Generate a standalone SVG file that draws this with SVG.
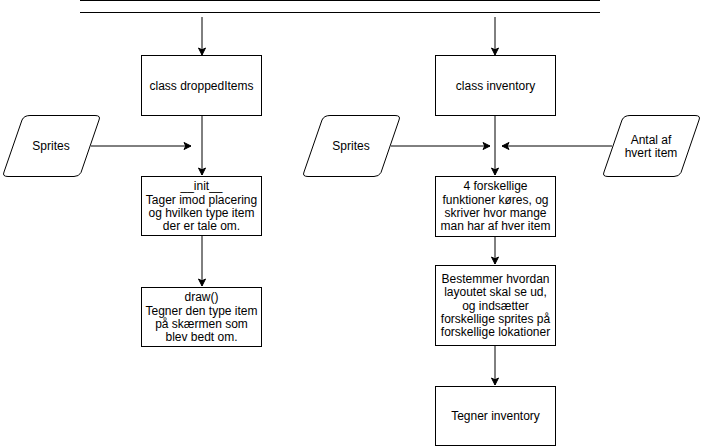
<svg xmlns="http://www.w3.org/2000/svg" width="703" height="447" viewBox="0 0 703 447">
<style>
  .box{fill:#fff;stroke:#000;stroke-width:1}
  .t{font-family:"Liberation Sans",Arial,sans-serif;font-size:12px;fill:#000;text-anchor:middle}
  .c{fill:none;stroke:#000;stroke-width:1}
</style>
<defs>
  <marker id="arr" markerUnits="userSpaceOnUse" markerWidth="10" markerHeight="10" viewBox="0 0 10 10" refX="8" refY="5" orient="auto">
    <path d="M1,1.5 L8,5 L1,8.5 L2.8,5 Z" fill="#000" stroke="#000" stroke-width="1" stroke-linejoin="miter"/>
  </marker>
</defs>
<rect width="703" height="447" fill="#fff"/>
<g id="bar">
  <line class="c" x1="80" y1="0.5" x2="600" y2="0.5"/>
  <line class="c" x1="80" y1="12.5" x2="600" y2="12.5"/>
</g>
<g id="connectors">
  <line class="c" x1="202" y1="17" x2="202" y2="55" marker-end="url(#arr)"/>
  <line class="c" x1="495" y1="17" x2="495" y2="55" marker-end="url(#arr)"/>
  <line class="c" x1="202" y1="116" x2="202" y2="175" marker-end="url(#arr)"/>
  <line class="c" x1="91" y1="146" x2="191" y2="146" marker-end="url(#arr)"/>
  <line class="c" x1="202" y1="236" x2="202" y2="286" marker-end="url(#arr)"/>
  <line class="c" x1="495" y1="116" x2="495" y2="175" marker-end="url(#arr)"/>
  <line class="c" x1="391" y1="146" x2="490" y2="146" marker-end="url(#arr)"/>
  <line class="c" x1="612" y1="146" x2="502" y2="146" marker-end="url(#arr)"/>
  <line class="c" x1="495" y1="236" x2="495" y2="264" marker-end="url(#arr)"/>
  <line class="c" x1="495" y1="346" x2="495" y2="385" marker-end="url(#arr)"/>
</g>
<g id="classDroppedItems">
  <rect class="box" x="141.5" y="55.5" width="120" height="60"/>
  <text class="t" x="201.5" y="90.2">class droppedItems</text>
</g>
<g id="classInventory">
  <rect class="box" x="435.5" y="55.5" width="120" height="60"/>
  <text class="t" x="495.5" y="90.2">class inventory</text>
</g>
<g id="spritesLeft">
  <path class="box" d="M30,115.5 L95,115.5 Q101,115.5 99,120 L81,172.5 Q79,176.5 74,176.5 L8,176.5 Q2,176.5 4,172 L22,120 Q24,115.5 30,115.5 Z"/>
  <text class="t" x="51" y="150.2">Sprites</text>
</g>
<g id="spritesRight">
  <path class="box" d="M330,115.5 L395,115.5 Q401,115.5 399,120 L381,172.5 Q379,176.5 374,176.5 L308,176.5 Q302,176.5 304,172 L322,120 Q324,115.5 330,115.5 Z"/>
  <text class="t" x="351" y="150.2">Sprites</text>
</g>
<g id="antal">
  <path class="box" d="M630,115.5 L695,115.5 Q701,115.5 699,120 L681,172.5 Q679,176.5 674,176.5 L608,176.5 Q602,176.5 604,172 L622,120 Q624,115.5 630,115.5 Z"/>
  <text class="t" x="651" y="143.5">Antal af</text>
  <text class="t" x="651" y="156.9">hvert item</text>
</g>
<g id="init">
  <rect class="box" x="141.5" y="176.5" width="120" height="59"/>
  <text class="t" x="201.5" y="190.2">__init__</text>
  <text class="t" x="201.5" y="203.5">Tager imod placering</text>
  <text class="t" x="201.5" y="216.9">og hvilken type item</text>
  <text class="t" x="201.5" y="230.2">der er tale om.</text>
</g>
<g id="draw">
  <rect class="box" x="141.5" y="287.5" width="120" height="59"/>
  <text class="t" x="201.5" y="301.2">draw()</text>
  <text class="t" x="201.5" y="314.5">Tegner den type item</text>
  <text class="t" x="201.5" y="327.9">på skærmen som</text>
  <text class="t" x="201.5" y="341.2">blev bedt om.</text>
</g>
<g id="funktioner">
  <rect class="box" x="435.5" y="176.5" width="120" height="60"/>
  <text class="t" x="495.5" y="190.2">4 forskellige</text>
  <text class="t" x="495.5" y="203.5">funktioner køres, og</text>
  <text class="t" x="495.5" y="216.9">skriver hvor mange</text>
  <text class="t" x="495.5" y="230.2">man har af hver item</text>
</g>
<g id="bestemmer">
  <rect class="box" x="435.5" y="265.5" width="120" height="80"/>
  <text class="t" x="495.5" y="283">Bestemmer hvordan</text>
  <text class="t" x="495.5" y="296.4">layoutet skal se ud,</text>
  <text class="t" x="495.5" y="309.7">og indsætter</text>
  <text class="t" x="495.5" y="323">forskellige sprites på</text>
  <text class="t" x="495.5" y="336.4">forskellige lokationer</text>
</g>
<g id="tegner">
  <rect class="box" x="435.5" y="386.5" width="120" height="59"/>
  <text class="t" x="495.5" y="420.2">Tegner inventory</text>
</g>
</svg>
